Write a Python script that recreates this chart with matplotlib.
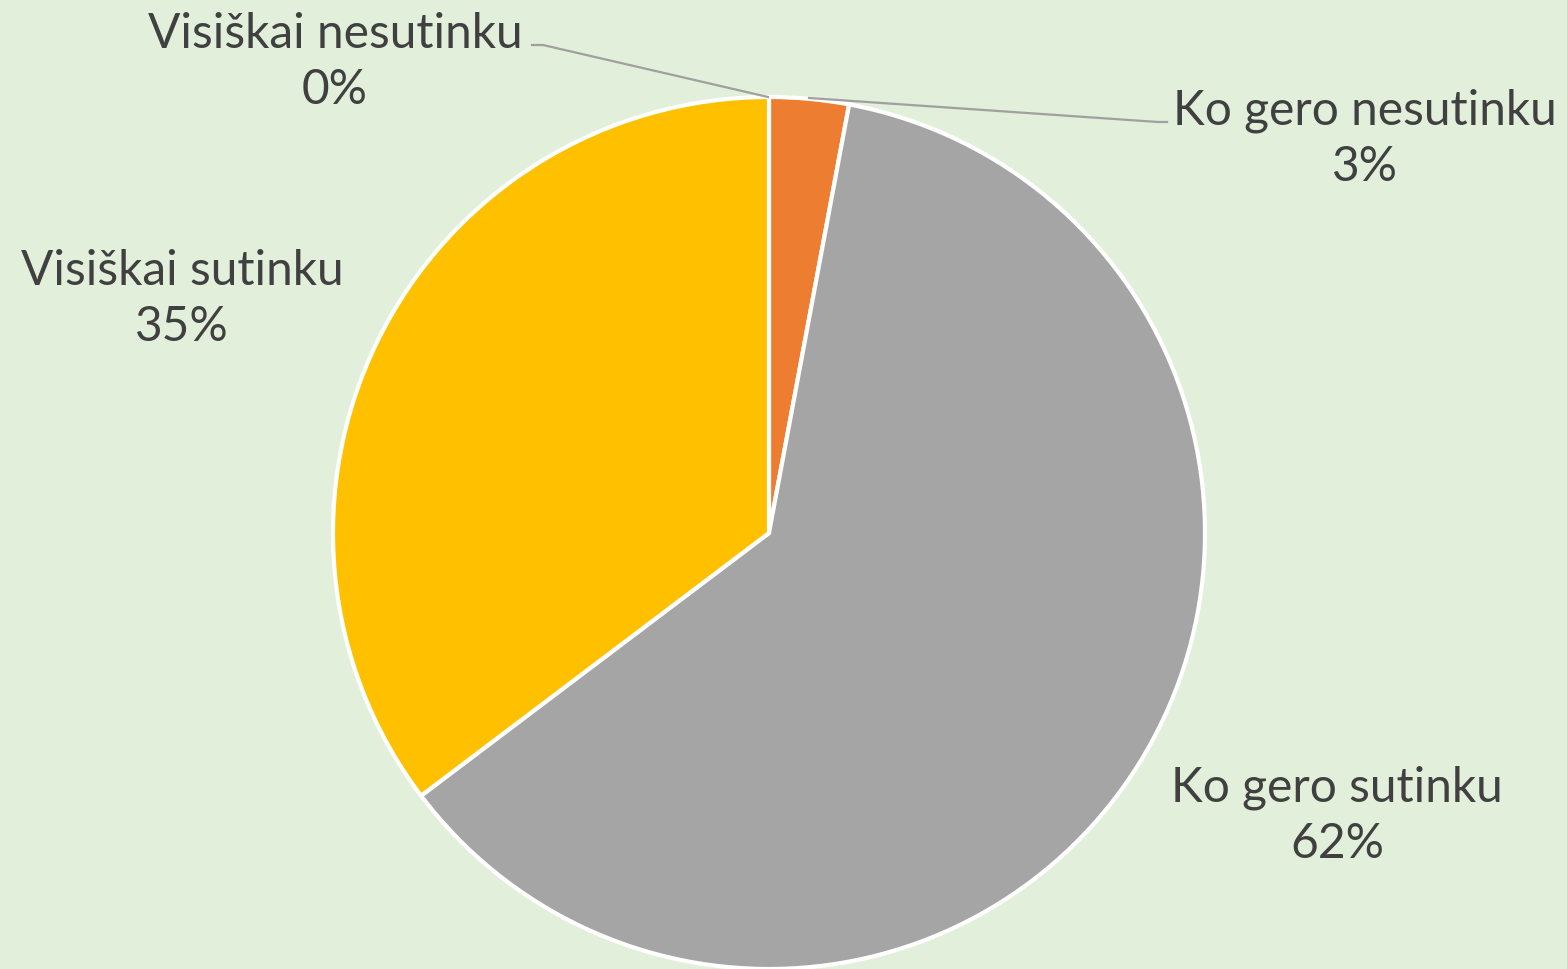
import matplotlib
matplotlib.use("Agg")
import matplotlib.pyplot as plt

categories = ["Visiškai nesutinku", "Ko gero nesutinku", "Ko gero sutinku", "Visiškai sutinku"]
values = [0, 1, 21, 12]
colors = ["#4472C4", "#ED7D31", "#A5A5A5", "#FFC000"]

W, H = 1567, 969
fig = plt.figure(figsize=(W / 100, H / 100), dpi=100)
bg = "#E2EFDA"
fig.patch.set_facecolor(bg)
ax = fig.add_axes([0, 0, 1, 1])
ax.set_facecolor(bg)

cx, cy, r = 769, H - 533, 436
ax.pie(values, colors=colors, startangle=90, counterclock=False,
       center=(cx, cy), radius=r, frame=True,
       wedgeprops=dict(edgecolor="white", linewidth=3))
ax.set_xlim(0, W)
ax.set_ylim(0, H)
ax.set_aspect("equal")
ax.axis("off")

total = sum(values)
pcts = [f"{round(v / total * 100)}%" for v in values]

# label positions (pixel coords, top-left origin) of label centres
label_pos = [(335, 62), (1365, 139), (1337, 816), (182, 299)]
txtc = "#404040"
for cat, p, (lx, ly) in zip(categories, pcts, label_pos):
    ax.text(lx, H - ly, f"{cat}\n{p}", ha="center", va="center",
            fontsize=34.5, family="Lato", color=txtc, linespacing=1.34)

# leader lines
lc = "#A0A0A0"
ax.plot([768, 543, 532], [H - 97, H - 45, H - 45], color=lc, lw=1.6)
ax.plot([809, 1158, 1167], [H - 98, H - 122, H - 122], color=lc, lw=1.6)

fig.savefig("out.png", dpi=100, facecolor=bg)
